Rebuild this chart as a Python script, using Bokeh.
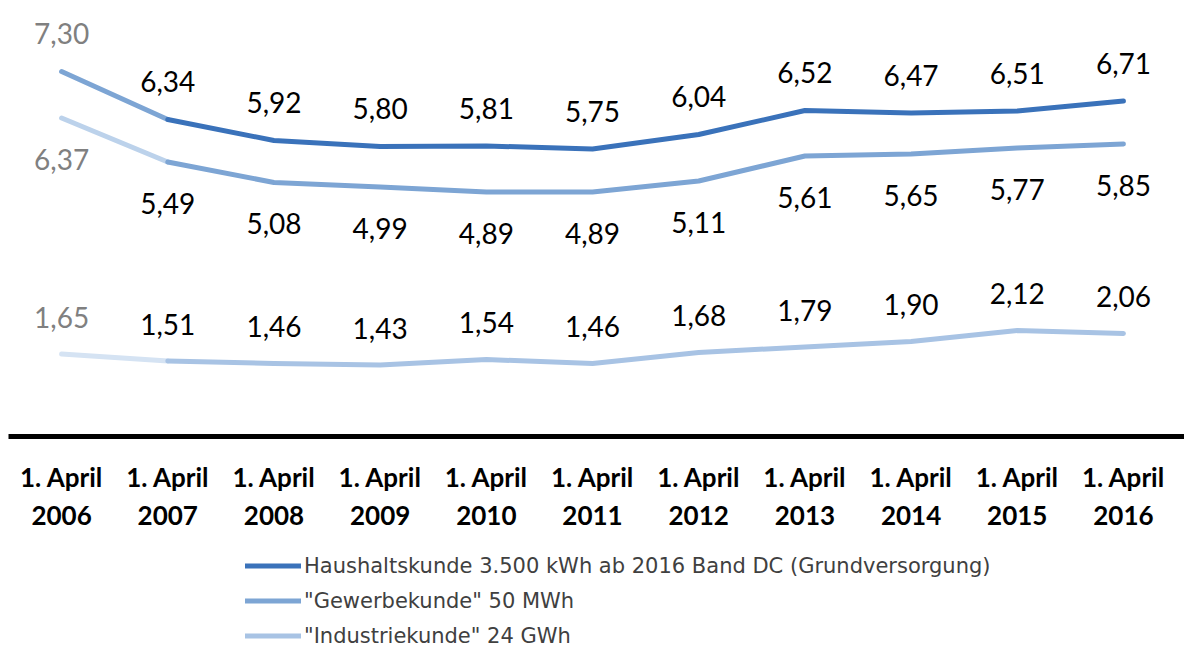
from bokeh.plotting import figure
from bokeh.layouts import column
from bokeh.models import Legend, LegendItem, ColumnDataSource, FixedTicker, Range1d
from bokeh.embed import file_html
from bokeh.resources import INLINE
from bokeh.core.properties import value

years = [2006, 2007, 2008, 2009, 2010, 2011, 2012, 2013, 2014, 2015, 2016]
categories = [f"1. April\n{y}" for y in years]
haushalt = [7.30, 6.34, 5.92, 5.80, 5.81, 5.75, 6.04, 6.52, 6.47, 6.51, 6.71]
gewerbe = [6.37, 5.49, 5.08, 4.99, 4.89, 4.89, 5.11, 5.61, 5.65, 5.77, 5.85]
industrie = [1.65, 1.51, 1.46, 1.43, 1.54, 1.46, 1.68, 1.79, 1.90, 2.12, 2.06]
series_names = [
    "Haushaltskunde 3.500 kWh ab 2016 Band DC (Grundversorgung)",
    "\"Gewerbekunde\" 50 MWh",
    "\"Industriekunde\" 24 GWh",
]
main_colors = ["#3A72BA", "#7DA5D4", "#A8C3E4"]
first_colors = ["#7DA5D4", "#BCD2EB", "#D5E3F3"]
label_offsets = [-38, 41, -37]  # screen px (negative = above)

xs = list(range(len(years)))

p = figure(width=1184, height=548, output_backend="svg", toolbar_location=None,
           x_range=Range1d(-0.5, 10.575), y_range=Range1d(0, 8.56),
           min_border_left=8, min_border_right=0, min_border_top=8, min_border_bottom=112,
           outline_line_color=None, background_fill_color="white", border_fill_color="white")
p.yaxis.visible = False
p.xgrid.visible = False
p.ygrid.visible = False

ax = p.xaxis[0]
ax.ticker = FixedTicker(ticks=xs)
ax.major_label_overrides = {i: c for i, c in zip(xs, categories)}
ax.axis_line_width = 5
ax.axis_line_color = "black"
ax.major_tick_line_color = None
ax.minor_tick_line_color = None
ax.major_label_standoff = 18
ax.major_label_text_font = "Lato"
ax.major_label_text_font_style = "bold"
ax.major_label_text_font_size = "26px"
ax.major_label_text_color = "black"
ax.major_label_text_line_height = 1.2

for vals, mc, fc, off in zip([haushalt, gewerbe, industrie], main_colors, first_colors, label_offsets):
    p.line(xs[:2], vals[:2], line_color=fc, line_width=5, line_join="round", line_cap="round")
    p.line(xs[1:], vals[1:], line_color=mc, line_width=5, line_join="round", line_cap="round")
    txt = [f"{v:.2f}".replace(".", ",") for v in vals]
    src = ColumnDataSource(dict(x=xs, y=vals, t=txt,
                                c=["#808080"] + ["#000000"] * (len(vals) - 1)))
    p.text(x="x", y="y", text="t", source=src, text_color="c",
           text_font=value("Lato"), text_font_size="28px",
           text_align="center", text_baseline="middle", y_offset=off)

# legend panel
p2 = figure(width=1184, height=105, output_backend="svg", toolbar_location=None,
            x_range=Range1d(0, 1), y_range=Range1d(0, 1),
            min_border_left=0, min_border_right=0, min_border_top=0, min_border_bottom=0,
            outline_line_color=None, background_fill_color="white", border_fill_color="white")
p2.axis.visible = False
p2.grid.visible = False
items = []
for name, mc in zip(series_names, main_colors):
    r = p2.line([-5, -4], [-5, -4], line_color=mc, line_width=5, line_cap="round")
    items.append(LegendItem(label=name, renderers=[r]))
legend = Legend(items=items, location=(237, 3), orientation="vertical",
                glyph_width=56, glyph_height=29, label_height=29, label_standoff=3,
                spacing=6, padding=0, margin=0,
                label_text_font="DejaVu Sans", label_text_font_size="21px",
                label_text_color="#404040",
                border_line_color=None, background_fill_alpha=0)
p2.add_layout(legend, "center")

open("out.html", "w").write(file_html(column(p, p2, spacing=0), INLINE))
